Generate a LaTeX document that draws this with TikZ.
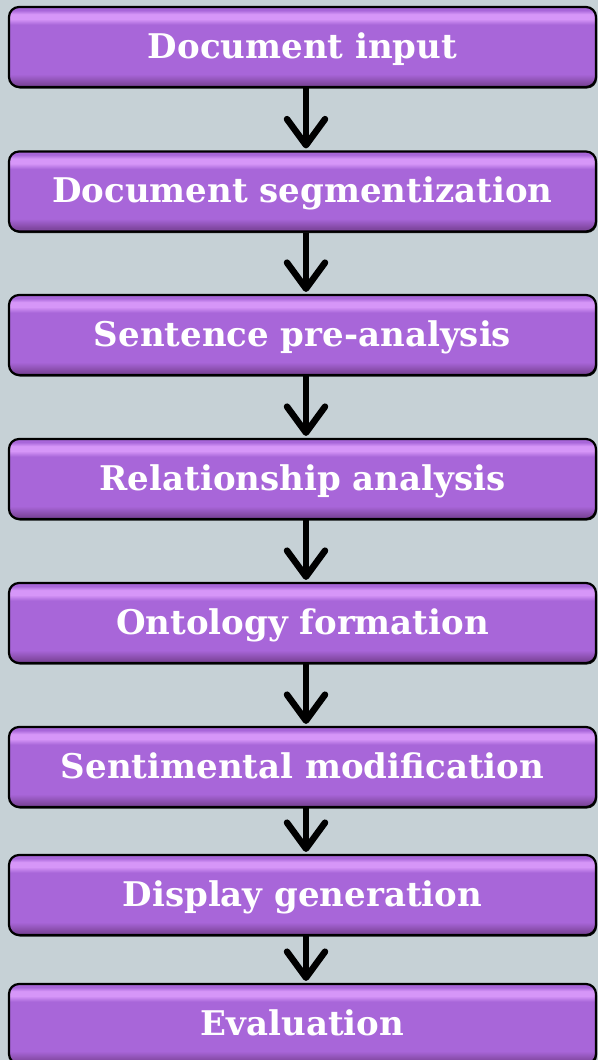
\documentclass[tikz,border=0pt]{standalone}
\usepackage{fontspec}
\setmainfont{DejaVu Serif}
\usetikzlibrary{arrows.meta,shadows}
\definecolor{bg}{HTML}{C6D1D6}
\definecolor{pmain}{HTML}{A866D9}
\definecolor{phi}{HTML}{D696F8}
\definecolor{pbot}{HTML}{80479F}
\pgfdeclareverticalshading{btnshade}{100bp}{color(0bp)=(pbot); color(25bp)=(pbot); color(27bp)=(pbot); color(33bp)=(pmain); color(64bp)=(pmain); color(67.5bp)=(phi); color(70.5bp)=(phi); color(73bp)=(pmain); color(100bp)=(pmain)}
\tikzset{
  stepbox/.style={rounded corners=10pt, shade, shading=btnshade, draw=black, line width=2.2pt,
    minimum width=587pt, minimum height=80pt, inner sep=0pt,
    text height=30pt, text depth=8pt,
    text=white, font=\bfseries\fontsize{34}{40}\selectfont,
    drop shadow={shadow xshift=1pt, shadow yshift=-1.5pt, fill=black, opacity=0.85}},
  flow/.style={line width=6.5pt, draw=black, -{Straight Barb[length=26pt,width=38pt,line cap=round,line join=round]}, shorten >=2pt}
}
\begin{document}
\begin{tikzpicture}[x=1pt,y=1pt]
\fill[bg] (0,0) rectangle (598,-1060);
\useasboundingbox (0,0) rectangle (598,-1060);
\node[stepbox] (b1) at (302.5,-47) {Document input};
\node[stepbox] (b2) at (302.5,-191.5) {Document segmentization};
\node[stepbox] (b3) at (302.5,-335) {Sentence pre-analysis};
\node[stepbox] (b4) at (302.5,-479) {Relationship analysis};
\node[stepbox] (b5) at (302.5,-623) {Ontology formation};
\node[stepbox] (b6) at (302.5,-767) {Sentimental modification};
\node[stepbox] (b7) at (302.5,-895) {Display generation};
\node[stepbox] (b8) at (302.5,-1024) {Evaluation};
\foreach \a/\b in {b1/b2,b2/b3,b3/b4,b4/b5,b5/b6,b6/b7,b7/b8}{
  \draw[flow] ([xshift=3.5pt]\a.south) -- ([xshift=3.5pt]\b.north);
}
\end{tikzpicture}
\end{document}
